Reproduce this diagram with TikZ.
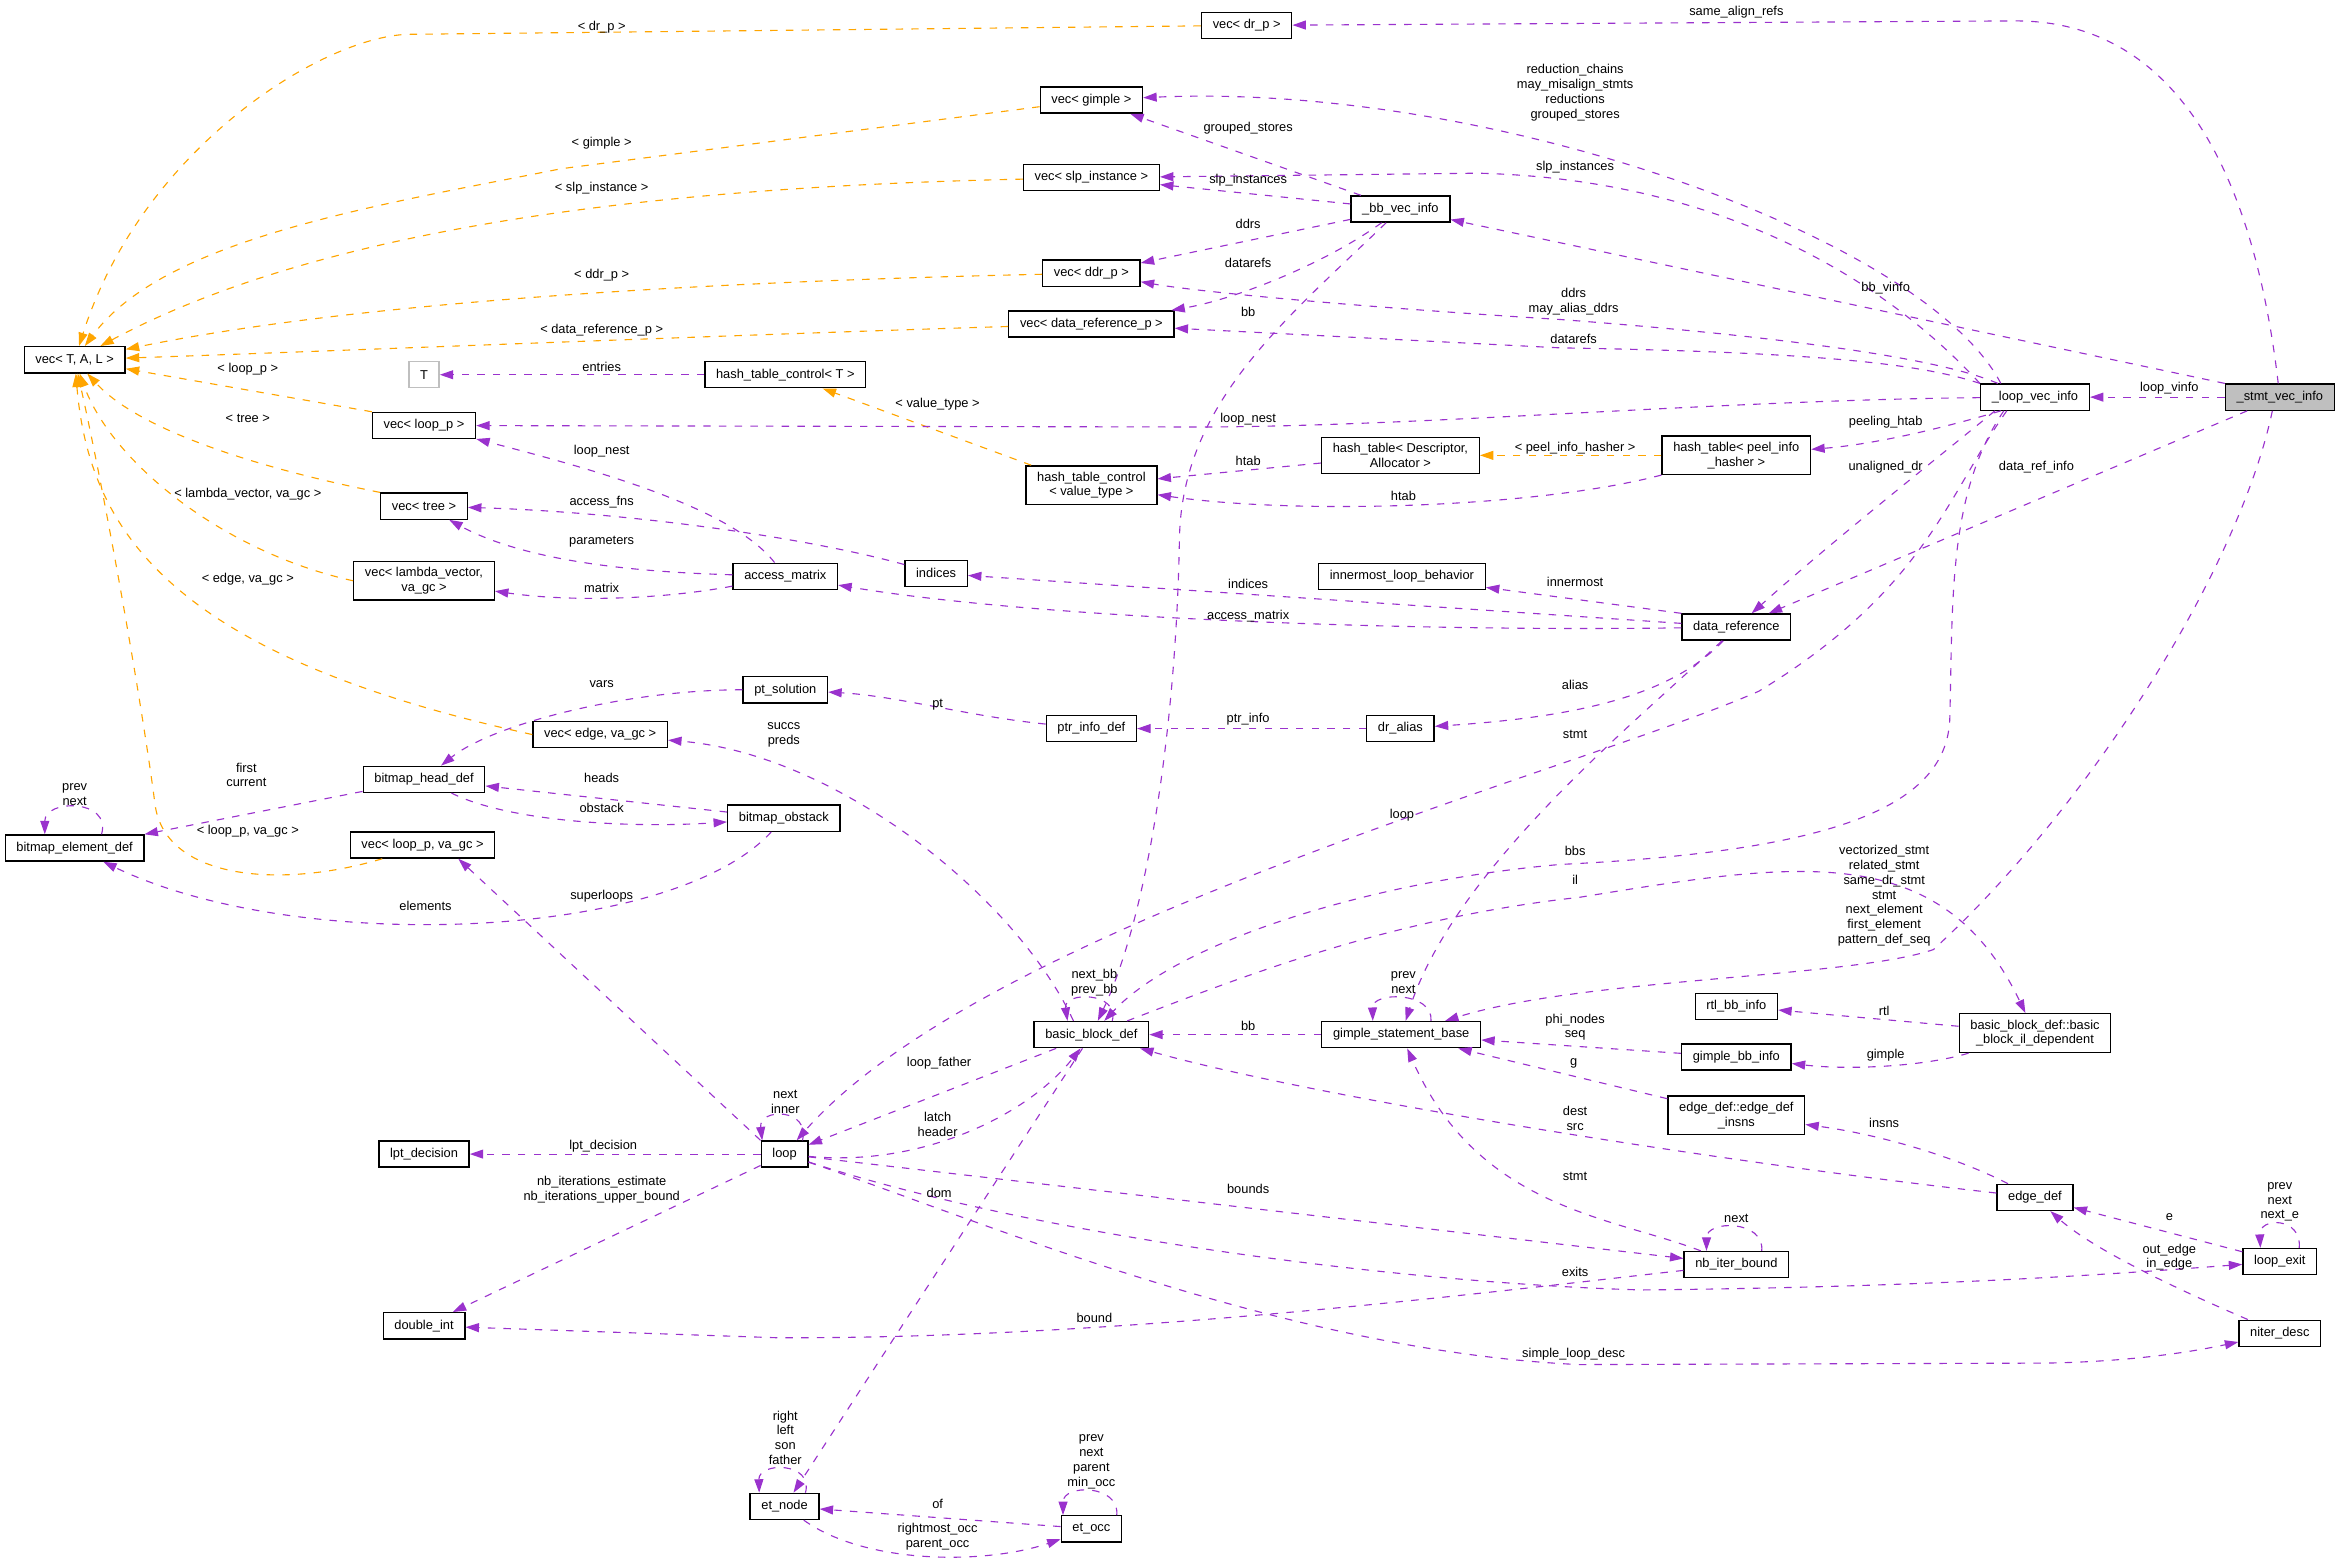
\documentclass[tikz,border=0pt]{standalone}
\usepackage{fontspec}
\setmainfont{Liberation Sans}
\usetikzlibrary{arrows.meta}

\definecolor{memberpurple}{HTML}{9A32CD}
\definecolor{templorange}{HTML}{FFA500}
\definecolor{stategray}{HTML}{BFBFBF}
\newcommand{\graphfont}{\fontsize{8.6}{9.9}\selectfont}

\begin{document}
\begin{tikzpicture}[
        x=1pt, y=-1pt,
        cls/.style={rectangle, draw=black, fill=white, line width=0.9pt, align=center, minimum height=17.5pt, inner xsep=7.5pt, inner ysep=4pt, font=\graphfont},
        ghost/.style={cls, draw=stategray},
        current/.style={cls, fill=stategray},
        lbl/.style={font=\graphfont, align=center, inner sep=0pt},
        member/.style={draw=memberpurple, line width=0.75pt, dash pattern=on 5pt off 5.5pt, -{Triangle[length=9pt, width=6pt]}},
        templ/.style={member, draw=templorange}
    ]
        \useasboundingbox (0,0) rectangle (1568,1046);

        \node[cls] (vecTAL) at (50,241) {vec< T, A, L >};
        \node[cls] (bmElem) at (50,568) {bitmap\_element\_def};
        \node[ghost] (T) at (284,251) {T};
        \node[cls] (vecLoopP) at (284,285) {vec< loop\_p >};
        \node[cls] (vecTree) at (284,339) {vec< tree >};
        \node[cls] (vecLambda) at (284,389) {vec< lambda\_vector,\\va\_gc >};
        \node[cls] (bmHead) at (284,522) {bitmap\_head\_def};
        \node[cls] (vecLoopPgc) at (283,566) {vec< loop\_p, va\_gc >};
        \node[cls] (lptDecision) at (284,773) {lpt\_decision};
        \node[cls] (doubleInt) at (284,888) {double\_int};
        \node[cls] (vecEdge) at (402,492) {vec< edge, va\_gc >};
        \node[cls] (htcT) at (526,251) {hash\_table\_control< T >};
        \node[cls] (accessMatrix) at (526,386) {access\_matrix};
        \node[cls] (ptSol) at (526,462) {pt\_solution};
        \node[cls] (bmObstack) at (525,548) {bitmap\_obstack};
        \node[cls] (loop) at (525.5,773) {loop};
        \node[cls] (etNode) at (525.5,1009) {et\_node};
        \node[cls] (indices) at (627,384) {indices};
        \node[cls] (vecGimple) at (731,67) {vec< gimple >};
        \node[cls] (vecSlp) at (731,119) {vec< slp\_instance >};
        \node[cls] (vecDdr) at (731,183) {vec< ddr\_p >};
        \node[cls] (vecDataRef) at (731,217) {vec< data\_reference\_p >};
        \node[cls] (htcValue) at (731,325) {hash\_table\_control\\< value\_type >};
        \node[cls] (ptrInfo) at (731,488) {ptr\_info\_def};
        \node[cls] (bbDef) at (731,693) {basic\_block\_def};
        \node[cls] (etOcc) at (731,1024) {et\_occ};
        \node[cls] (vecDrP) at (835,17) {vec< dr\_p >};
        \node[cls] (bbVec) at (938,140) {\_bb\_vec\_info};
        \node[cls] (htDesc) at (938,305) {hash\_table< Descriptor,\\Allocator >};
        \node[cls] (innermost) at (939,386) {innermost\_loop\_behavior};
        \node[cls] (drAlias) at (938,488) {dr\_alias};
        \node[cls] (gsBase) at (938.5,693) {gimple\_statement\_base};
        \node[cls] (htPeel) at (1163,305) {hash\_table< peel\_info\\\_hasher >};
        \node[cls] (dataRef) at (1163,420) {data\_reference};
        \node[cls] (rtlBb) at (1163,674) {rtl\_bb\_info};
        \node[cls] (gimpleBb) at (1163,708) {gimple\_bb\_info};
        \node[cls] (edgeInsns) at (1163,747) {edge\_def::edge\_def\\\_insns};
        \node[cls] (nbIter) at (1163,847) {nb\_iter\_bound};
        \node[cls] (loopVec) at (1363,266) {\_loop\_vec\_info};
        \node[cls] (bbIl) at (1363,692) {basic\_block\_def::basic\\\_block\_il\_dependent};
        \node[cls] (edgeDef) at (1363,802) {edge\_def};
        \node[current] (stmtVec) at (1527,266) {\_stmt\_vec\_info};
        \node[cls] (loopExit) at (1527,845) {loop\_exit};
        \node[cls] (niterDesc) at (1527,893) {niter\_desc};

        \draw[templ] (vecDrP) -- (273,23) .. controls (215,25) and (95,100) .. (vecTAL);
        \draw[templ] (vecGimple) -- (376,113) .. controls (250,138) and (110,160) .. (vecTAL);
        \draw[templ] (vecSlp) .. controls (450,125) and (220,150) .. (vecTAL);
        \draw[templ] (vecDdr) .. controls (500,188) and (250,200) .. (vecTAL);
        \draw[templ] (vecDataRef) .. controls (500,224) and (200,236) .. (vecTAL);
        \draw[templ] (vecLoopP.north west) -- (vecTAL);
        \draw[templ] (vecTree.north west) .. controls (180,315) and (95,290) .. (vecTAL);
        \draw[templ] (vecLambda.west) .. controls (150,370) and (75,310) .. (vecTAL);
        \draw[templ] (vecEdge.west) .. controls (120,440) and (60,360) .. (vecTAL);
        \draw[templ] ([xshift=-27pt]vecLoopPgc.south) .. controls (190,595) and (112,590) .. (104,540) .. controls (95,470) and (70,330) .. (vecTAL);
        \draw[templ] ([xshift=4pt]htcValue.north west) -- (htcT);
        \draw[templ] (htPeel) -- (htDesc);

        \draw[member] (stmtVec) .. controls (1510,120) and (1460,14) .. (1350,14) -- (vecDrP);
        \draw[member] ([xshift=14pt]loopVec.north west) .. controls (1290,160) and (1000,55) .. (vecGimple);
        \draw[member] ([xshift=7pt]bbVec.north west) -- (vecGimple);
        \draw[member] (loopVec.north west) .. controls (1260,185) and (1150,120) .. (990,116) -- (vecSlp);
        \draw[member] (bbVec) -- (vecSlp);
        \draw[member] (stmtVec.north west) -- (bbVec);
        \draw[member] (bbVec) -- (vecDdr);
        \draw[member] (bbVec) .. controls (890,175) and (830,200) .. (vecDataRef);
        \draw[member] (bbVec) .. controls (860,215) and (792,270) .. (790,360) .. controls (788,480) and (770,610) .. (bbDef);
        \draw[member] ([xshift=12pt]loopVec.north west) .. controls (1290,236) and (1150,222) .. (1045,214) .. controls (900,205) and (800,195) .. (vecDdr);
        \draw[member] (loopVec.north west) .. controls (1290,245) and (1230,236) .. (1045,233) -- (vecDataRef);
        \draw[member] (loopVec) .. controls (1150,268) and (950,286) .. (800,286) -- (vecLoopP);
        \draw[member] (stmtVec) -- (loopVec);
        \draw[member] ([xshift=14pt]loopVec.south west) .. controls (1290,290) and (1250,298) .. (htPeel);
        \draw[member] (htDesc) -- (htcValue);
        \draw[member] (htPeel) .. controls (1030,340) and (870,345) .. (htcValue);
        \draw[member] ([xshift=10pt]loopVec.south west) .. controls (1300,305) and (1230,360) .. (dataRef);
        \draw[member] ([xshift=15pt]stmtVec.south west) -- (dataRef);
        \draw[member] ([xshift=18pt]loopVec.south west) .. controls (1305,330) and (1290,395) .. (1178,463) .. controls (1060,515) and (660,620) .. (loop);
        \draw[member] (dataRef) -- (indices);
        \draw[member] (dataRef) .. controls (950,423) and (700,415) .. (accessMatrix);
        \draw[member] (dataRef.north west) -- (innermost);
        \draw[member] (dataRef) .. controls (1120,465) and (1060,480) .. (drAlias);
        \draw[member] (dataRef) .. controls (1100,480) and (975,580) .. (gsBase);
        \draw[member] (drAlias) -- (ptrInfo);
        \draw[member] (ptrInfo) .. controls (650,480) and (600,466) .. (ptSol);
        \draw[member] (ptSol) .. controls (420,462) and (330,485) .. (bmHead);
        \draw[member] (bmHead) -- (bmElem);
        \draw[member] ([xshift=18pt]bmElem.north) .. controls (75,535) and (30,535) .. ([xshift=-20pt]bmElem.north);
        \draw[member] (bmObstack) -- (bmHead);
        \draw[member] (bmHead) .. controls (340,550) and (420,555) .. (bmObstack);
        \draw[member] (bmObstack) .. controls (450,630) and (200,640) .. (bmElem);
        \draw[member] (loop.north west) -- ([xshift=24pt]vecLoopPgc.south);
        \draw[member] ([xshift=-12pt]bbDef.north) .. controls (680,600) and (560,505) .. (vecEdge);
        \draw[member] ([xshift=14pt]bbDef.north) .. controls (750,664) and (712,664) .. ([xshift=-16pt]bbDef.north);
        \draw[member] (gsBase) -- (bbDef);
        \draw[member] ([xshift=20pt]gsBase.north) .. controls (960,664) and (919,664) .. ([xshift=-19pt]gsBase.north);
        \draw[member] ([xshift=16pt]loopVec.south west) .. controls (1305,330) and (1308,400) .. (1306,480) .. controls (1305,540) and (1230,570) .. (1045,579) .. controls (920,590) and (790,630) .. (bbDef);
        \draw[member] (bbDef) .. controls (830,655) and (930,615) .. (1058,601) .. controls (1200,578) and (1300,560) .. (bbIl);
        \draw[member] ([xshift=-5pt]stmtVec.south) .. controls (1500,380) and (1400,540) .. (1295,636) .. controls (1240,655) and (1060,655) .. (gsBase);
        \draw[member] (gimpleBb) -- (gsBase);
        \draw[member] (bbIl) -- (rtlBb);
        \draw[member] (bbIl) .. controls (1290,714) and (1240,717) .. (gimpleBb);
        \draw[member] (edgeInsns) -- (gsBase);
        \draw[member] (edgeDef) .. controls (1310,775) and (1260,760) .. (edgeInsns);
        \draw[member] (edgeDef) .. controls (1150,778) and (880,735) .. (bbDef);
        \draw[member] (nbIter) .. controls (1080,815) and (990,810) .. (gsBase);
        \draw[member] ([xshift=17pt]nbIter.north) .. controls (1182,817) and (1143,817) .. ([xshift=-20pt]nbIter.north);
        \draw[member] (loop) -- (nbIter);
        \draw[member] (loop) .. controls (700,830) and (950,860) .. (1100,864) .. controls (1300,862) and (1420,853) .. (loopExit);
        \draw[member] (nbIter) .. controls (1000,865) and (750,897) .. (520,896) -- (doubleInt);
        \draw[member] (loop) -- (doubleInt);
        \draw[member] (loop) -- (lptDecision);
        \draw[member] (loop) .. controls (650,815) and (860,905) .. (1058,914) -- (1370,913) .. controls (1430,912) and (1470,905) .. (niterDesc);
        \draw[member] (bbDef) -- (loop);
        \draw[member] (loop) .. controls (620,782) and (690,745) .. (bbDef);
        \draw[member] ([xshift=12pt]loop.north) .. controls (543,742) and (508,742) .. ([xshift=-15pt]loop.north);
        \draw[member] (bbDef) -- (etNode);
        \draw[member] ([xshift=14pt]etNode.north) .. controls (545,979) and (508,979) .. ([xshift=-17pt]etNode.north);
        \draw[member] (etOcc) -- (etNode);
        \draw[member] (etNode) .. controls (580,1048) and (660,1048) .. (etOcc);
        \draw[member] ([xshift=17pt]etOcc.north) .. controls (750,994) and (712,994) .. ([xshift=-19pt]etOcc.north);
        \draw[member] (loopExit) -- (edgeDef);
        \draw[member] ([xshift=13pt]loopExit.north) .. controls (1542,815) and (1513,815) .. ([xshift=-13pt]loopExit.north);
        \draw[member] (niterDesc) .. controls (1450,860) and (1400,835) .. (edgeDef);
        \draw[member] (accessMatrix) .. controls (490,340) and (400,315) .. (vecLoopP);
        \draw[member] (indices) .. controls (540,360) and (420,343) .. (vecTree);
        \draw[member] (accessMatrix) .. controls (420,383) and (350,375) .. (vecTree);
        \draw[member] (accessMatrix) .. controls (440,402) and (380,403) .. (vecLambda);
        \draw[member] (htcT) -- (T);

        \node[lbl] (lDrP) at (403,18) {< dr\_p >};
        \node[lbl] (lGimple) at (403,96) {< gimple >};
        \node[lbl] (lSlpInst) at (403,126) {< slp\_instance >};
        \node[lbl] (lDdrP) at (403,184) {< ddr\_p >};
        \node[lbl] (lDataRefP) at (403,221) {< data\_reference\_p >};
        \node[lbl] (lEntries) at (403,246) {entries};
        \node[lbl] (lLoopP) at (166,247) {< loop\_p >};
        \node[lbl] (lTree) at (166,280) {< tree >};
        \node[lbl] (lLambda) at (166,331) {< lambda\_vector, va\_gc >};
        \node[lbl] (lEdgeGc) at (166,388) {< edge, va\_gc >};
        \node[lbl] (lLoopPgc) at (166,557) {< loop\_p, va\_gc >};
        \node[lbl] (lLoopNestA) at (403,302) {loop\_nest};
        \node[lbl] (lAccessFns) at (403,336) {access\_fns};
        \node[lbl] (lParams) at (403,363) {parameters};
        \node[lbl] (lMatrix) at (403,394) {matrix};
        \node[lbl] (lVars) at (403,458) {vars};
        \node[lbl] (lHeads) at (403,521) {heads};
        \node[lbl] (lObstack) at (403,541) {obstack};
        \node[lbl] (lFirstCur) at (165,519) {first\\current};
        \node[lbl] (lElemSelf) at (50,532) {prev\\next};
        \node[lbl] (lSuperloops) at (403,600) {superloops};
        \node[lbl] (lElements) at (285,607) {elements};
        \node[lbl] (lSuccs) at (525,492) {succs\\preds};
        \node[lbl] (lValueType) at (628,271) {< value\_type >};
        \node[lbl] (lPt) at (628,472) {pt};
        \node[lbl] (lGrouped) at (836,86) {grouped\_stores};
        \node[lbl] (lSlpB) at (836,121) {slp\_instances};
        \node[lbl] (lDdrsB) at (836,150) {ddrs};
        \node[lbl] (lDatarefsB) at (836,176) {datarefs};
        \node[lbl] (lBbB) at (836,209) {bb};
        \node[lbl] (lLoopNestL) at (836,281) {loop\_nest};
        \node[lbl] (lHtabA) at (836,309) {htab};
        \node[lbl] (lHtabB) at (940,332) {htab};
        \node[lbl] (lIndices) at (836,391) {indices};
        \node[lbl] (lAccessMatrix) at (836,413) {access\_matrix};
        \node[lbl] (lPtrInfo) at (836,482) {ptr\_info};
        \node[lbl] (lLoop) at (939,546) {loop};
        \node[lbl] (lBbSelf) at (733,658) {next\_bb\\prev\_bb};
        \node[lbl] (lGsSelf) at (940,658) {prev\\next};
        \node[lbl] (lBbG) at (836,687) {bb};
        \node[lbl] (lSameAlign) at (1163,8) {same\_align\_refs};
        \node[lbl] (lReduc) at (1055,62) {reduction\_chains\\may\_misalign\_stmts\\reductions\\grouped\_stores};
        \node[lbl] (lSlpL) at (1055,112) {slp\_instances};
        \node[lbl] (lDdrsL) at (1054,202) {ddrs\\may\_alias\_ddrs};
        \node[lbl] (lDatarefsL) at (1054,227) {datarefs};
        \node[lbl] (lPeelHasher) at (1055,300) {< peel\_info\_hasher >};
        \node[lbl] (lInnermost) at (1055,390) {innermost};
        \node[lbl] (lAlias) at (1055,459) {alias};
        \node[lbl] (lStmtD) at (1055,492) {stmt};
        \node[lbl] (lBbs) at (1055,570) {bbs};
        \node[lbl] (lIl) at (1055,589) {il};
        \node[lbl] (lPhi) at (1055,688) {phi\_nodes\\seq};
        \node[lbl] (lG) at (1054,712) {g};
        \node[lbl] (lDestSrc) at (1055,749) {dest\\src};
        \node[lbl] (lStmtN) at (1055,788) {stmt};
        \node[lbl] (lExits) at (1055,852) {exits};
        \node[lbl] (lSimple) at (1054,907) {simple\_loop\_desc};
        \node[lbl] (lBounds) at (836,796) {bounds};
        \node[lbl] (lBound) at (733,883) {bound};
        \node[lbl] (lNbSelf) at (1163,816) {next};
        \node[lbl] (lBbVinfo) at (1263,193) {bb\_vinfo};
        \node[lbl] (lPeeling) at (1263,283) {peeling\_htab};
        \node[lbl] (lUnaligned) at (1263,313) {unaligned\_dr};
        \node[lbl] (lDataRefInfo) at (1364,313) {data\_ref\_info};
        \node[lbl] (lStmtBlock) at (1262,600) {vectorized\_stmt\\related\_stmt\\same\_dr\_stmt\\stmt\\next\_element\\first\_element\\pattern\_def\_seq};
        \node[lbl] (lRtl) at (1262,677) {rtl};
        \node[lbl] (lGimpleI) at (1263,707) {gimple};
        \node[lbl] (lInsns) at (1262,752) {insns};
        \node[lbl] (lLoopVinfo) at (1453,260) {loop\_vinfo};
        \node[lbl] (lE) at (1453,815) {e};
        \node[lbl] (lEdges) at (1453,842) {out\_edge\\in\_edge};
        \node[lbl] (lExitSelf) at (1527,805) {prev\\next\\next\_e};
        \node[lbl] (lLatch) at (628,753) {latch\\header};
        \node[lbl] (lLoopFather) at (629,712) {loop\_father};
        \node[lbl] (lDom) at (629,799) {dom};
        \node[lbl] (lLoopSelf) at (526,738) {next\\inner};
        \node[lbl] (lLpt) at (404,768) {lpt\_decision};
        \node[lbl] (lNbIter) at (403,797) {nb\_iterations\_estimate\\nb\_iterations\_upper\_bound};
        \node[lbl] (lEtSelf) at (526,963) {right\\left\\son\\father};
        \node[lbl] (lOf) at (628,1007) {of};
        \node[lbl] (lOccs) at (628,1029) {rightmost\_occ\\parent\_occ};
        \node[lbl] (lOccSelf) at (731,979) {prev\\next\\parent\\min\_occ};
    \end{tikzpicture}
\end{document}
